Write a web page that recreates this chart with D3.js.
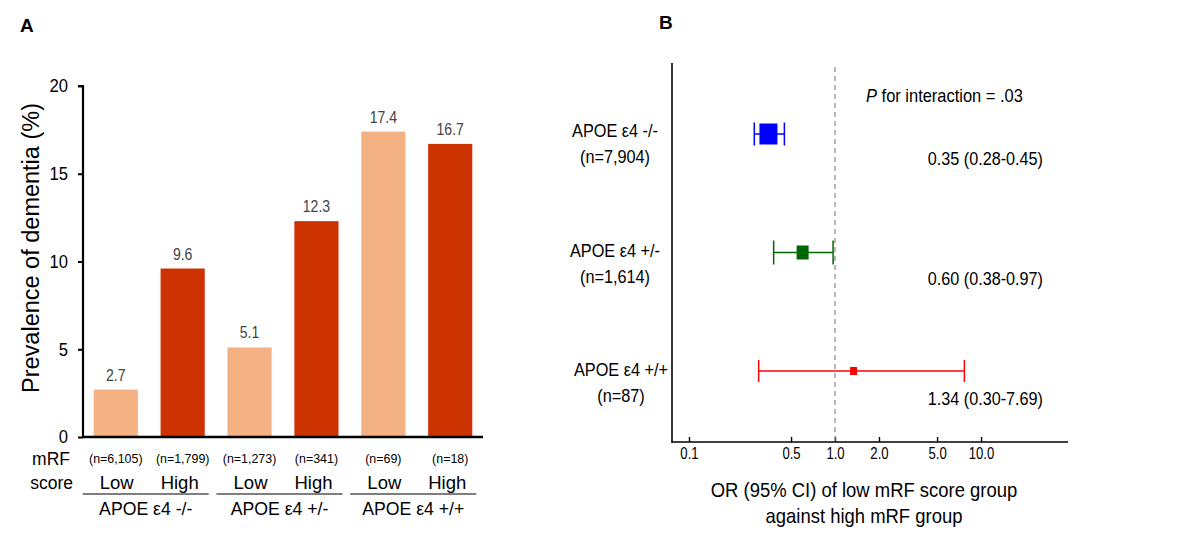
<!DOCTYPE html>
<html lang="en">
<head>
<meta charset="utf-8">
<title>Dementia prevalence and OR by APOE e4</title>
<script src="https://d3js.org/d3.v7.min.js"></script>
<style>
  body { margin: 0; background: #fff; font-family: "Liberation Sans", Arial, sans-serif; }
  svg text { font-family: "Liberation Sans", Arial, sans-serif; }
</style>
</head>
<body>
<svg id="chart" width="1200" height="559"></svg>
<script>
// ---- panel A data
var groups = ["APOE \u03b54 -/-", "APOE \u03b54 +/-", "APOE \u03b54 +/+"];
var scoreLevels = ["Low", "High"];
var prevalence = [2.7, 9.6, 5.1, 12.3, 17.4, 16.7];
var barCounts = ["(n=6,105)", "(n=1,799)", "(n=1,273)", "(n=341)", "(n=69)", "(n=18)"];
var yTicks = [0, 5, 10, 15, 20];

// ---- panel B data
var forestLabels = ["APOE \u03b54 -/-", "APOE \u03b54 +/-", "APOE \u03b54 +/+"];
var forestCounts = ["(n=7,904)", "(n=1,614)", "(n=87)"];
var orValues = [0.35, 0.60, 1.34];
var ciLow = [0.28, 0.38, 0.30];
var ciHigh = [0.45, 0.97, 7.69];
var orText = ["0.35 (0.28-0.45)", "0.60 (0.38-0.97)", "1.34 (0.30-7.69)"];
var xTicks = [0.1, 0.5, 1.0, 2.0, 5.0, 10.0];

var svg = d3.select("#chart");

// text helper: the figure's type is a bit narrower than Arial, so squeeze horizontally
function label(sel, x, y, txt, size, anchor, sx) {
  return sel.append("text")
    .attr("transform", "translate(" + x + "," + y + ") scale(" + (sx || 1) + ",1)")
    .attr("text-anchor", anchor || "start")
    .attr("font-size", size)
    .text(txt);
}

// ================= Panel A =================
var light = "#F4B183", dark = "#CC3300";
var keys = d3.range(prevalence.length);
var x = d3.scaleBand().domain(keys).range([83, 483]).paddingInner(0.34).paddingOuter(0.16);
var y = d3.scaleLinear().domain([0, 20]).range([437, 86]);

label(svg, 20, 32, "A", 19).attr("font-weight", "bold");

svg.selectAll(".bar").data(prevalence).enter().append("rect")
  .attr("class", "bar")
  .attr("x", function (d, i) { return x(i); })
  .attr("y", function (d) { return y(d); })
  .attr("width", x.bandwidth())
  .attr("height", function (d) { return y(0) - y(d); })
  .attr("fill", function (d, i) { return i % 2 === 0 ? light : dark; });

svg.selectAll(".val").data(prevalence).enter().append("text")
  .attr("class", "val")
  .attr("transform", function (d, i) {
    return "translate(" + (x(i) + x.bandwidth() / 2) + "," + (y(d) - 9) + ") scale(0.88,1)";
  })
  .attr("text-anchor", "middle")
  .attr("font-size", 16).attr("fill", "#444")
  .text(function (d) { return d.toFixed(1); });

var yAxis = svg.append("g").attr("transform", "translate(83,0)")
  .call(d3.axisLeft(y).tickValues(yTicks).tickSize(5).tickPadding(10));
yAxis.select(".domain").attr("stroke-width", 2.2).attr("d", "M-5,86H0V437");
yAxis.selectAll(".tick line").attr("stroke-width", 2);
yAxis.selectAll("text").attr("font-size", 18.5).attr("fill", "#000")
  .attr("transform", "translate(-15,0) scale(0.9,1) translate(15,0)");

svg.append("line").attr("x1", 82).attr("x2", 483).attr("y1", 437).attr("y2", 437)
  .attr("stroke", "#000").attr("stroke-width", 2.5);

svg.append("text")
  .attr("transform", "translate(39,248) rotate(-90)")
  .attr("text-anchor", "middle").attr("font-size", 23.5)
  .text("Prevalence of dementia (%)");

label(svg, 70, 465, "mRF", 17.5, "end");
label(svg, 73, 489, "score", 17.5, "end");

svg.selectAll(".cnt").data(barCounts).enter().append("text")
  .attr("class", "cnt")
  .attr("transform", function (d, i) {
    return "translate(" + (x(i) + x.bandwidth() / 2) + ",463) scale(0.92,1)";
  })
  .attr("text-anchor", "middle").attr("font-size", 13.5)
  .text(function (d) { return d; });

svg.selectAll(".lvl").data(keys).enter().append("text")
  .attr("class", "lvl")
  .attr("x", function (d) { return x(d) + x.bandwidth() / 2 + (d % 2 ? -3 : 1); })
  .attr("y", 489).attr("text-anchor", "middle").attr("font-size", 18.5)
  .text(function (d) { return scoreLevels[d % 2]; });

groups.forEach(function (g, gi) {
  var x0 = x(gi * 2) - 11, x1 = x(gi * 2 + 1) + x.bandwidth() + 4;
  svg.append("line").attr("x1", x0).attr("x2", x1).attr("y1", 494).attr("y2", 494)
    .attr("stroke", "#000").attr("stroke-width", 1.2);
  label(svg, (x0 + x1) / 2, 515, g, 19, "middle", 0.93);
});

// ================= Panel B =================
var fx = d3.scaleLog().domain([0.0765, 39.4]).range([672, 1068]);
var fy = d3.scalePoint().domain(d3.range(orValues.length)).range([134, 371]);
var colors = ["#0000FF", "#006600", "#FF0000"];
var boxW = [18, 12, 7];
var boxH = [21, 14, 8];
var capH = [23, 24, 22];

label(svg, 659, 29, "B", 19).attr("font-weight", "bold");

svg.append("line").attr("x1", 672).attr("x2", 672).attr("y1", 63).attr("y2", 443)
  .attr("stroke", "#000").attr("stroke-width", 1.6);

var xAxis = svg.append("g").attr("transform", "translate(0,442)")
  .call(d3.axisBottom(fx).tickValues(xTicks).tickSizeInner(-5).tickSizeOuter(0)
    .tickPadding(6).tickFormat(d3.format(".1f")));
xAxis.select(".domain").attr("stroke-width", 1.6).attr("d", "M672,0H1068");
xAxis.selectAll(".tick line").attr("stroke-width", 1.4);
xAxis.selectAll("text").attr("font-size", 16).attr("fill", "#000")
  .attr("transform", "scale(0.82,1)");

svg.append("line").attr("x1", fx(1)).attr("x2", fx(1)).attr("y1", 67).attr("y2", 442)
  .attr("stroke", "#888").attr("stroke-width", 1.2).attr("stroke-dasharray", "5,4");

label(svg, 866, 102, "", 18.5, "start", 0.89)
  .call(function (t) {
    t.append("tspan").attr("font-style", "italic").text("P");
    t.append("tspan").text(" for interaction = .03");
  });

var rows = svg.selectAll(".row").data(orValues).enter().append("g").attr("class", "row");
rows.append("line")
  .attr("x1", function (d, i) { return fx(ciLow[i]); })
  .attr("x2", function (d, i) { return fx(ciHigh[i]); })
  .attr("y1", function (d, i) { return fy(i); })
  .attr("y2", function (d, i) { return fy(i); })
  .attr("stroke", function (d, i) { return colors[i]; }).attr("stroke-width", 1.5);
[ciLow, ciHigh].forEach(function (arr) {
  rows.append("line")
    .attr("x1", function (d, i) { return fx(arr[i]); })
    .attr("x2", function (d, i) { return fx(arr[i]); })
    .attr("y1", function (d, i) { return fy(i) - capH[i] / 2; })
    .attr("y2", function (d, i) { return fy(i) + capH[i] / 2; })
    .attr("stroke", function (d, i) { return colors[i]; }).attr("stroke-width", 1.5);
});
rows.append("rect")
  .attr("x", function (d, i) { return fx(d) - boxW[i] / 2; })
  .attr("y", function (d, i) { return fy(i) - boxH[i] / 2; })
  .attr("width", function (d, i) { return boxW[i]; })
  .attr("height", function (d, i) { return boxH[i]; })
  .attr("fill", function (d, i) { return colors[i]; });
rows.append("text")
  .attr("transform", function (d, i) {
    return "translate(1043," + (fy(i) + 31 + i * 1.5) + ") scale(0.9,1)";
  })
  .attr("text-anchor", "end").attr("font-size", 18)
  .text(function (d, i) { return orText[i]; });
rows.append("text")
  .attr("transform", function (d, i) {
    return "translate(" + (i === 2 ? 621 : 615) + "," + (fy(i) + 3 + i) + ") scale(0.88,1)";
  })
  .attr("text-anchor", "middle").attr("font-size", 18.5)
  .text(function (d, i) { return forestLabels[i]; });
rows.append("text")
  .attr("transform", function (d, i) {
    return "translate(" + (i === 2 ? 621 : 615) + "," + (fy(i) + 29 + i) + ") scale(0.88,1)";
  })
  .attr("text-anchor", "middle").attr("font-size", 18.5)
  .text(function (d, i) { return forestCounts[i]; });

label(svg, 864, 497, "OR (95% CI) of low mRF score group", 20.5, "middle", 0.9);
label(svg, 864, 523, "against high mRF group", 20.5, "middle", 0.9);
</script>
</body>
</html>
